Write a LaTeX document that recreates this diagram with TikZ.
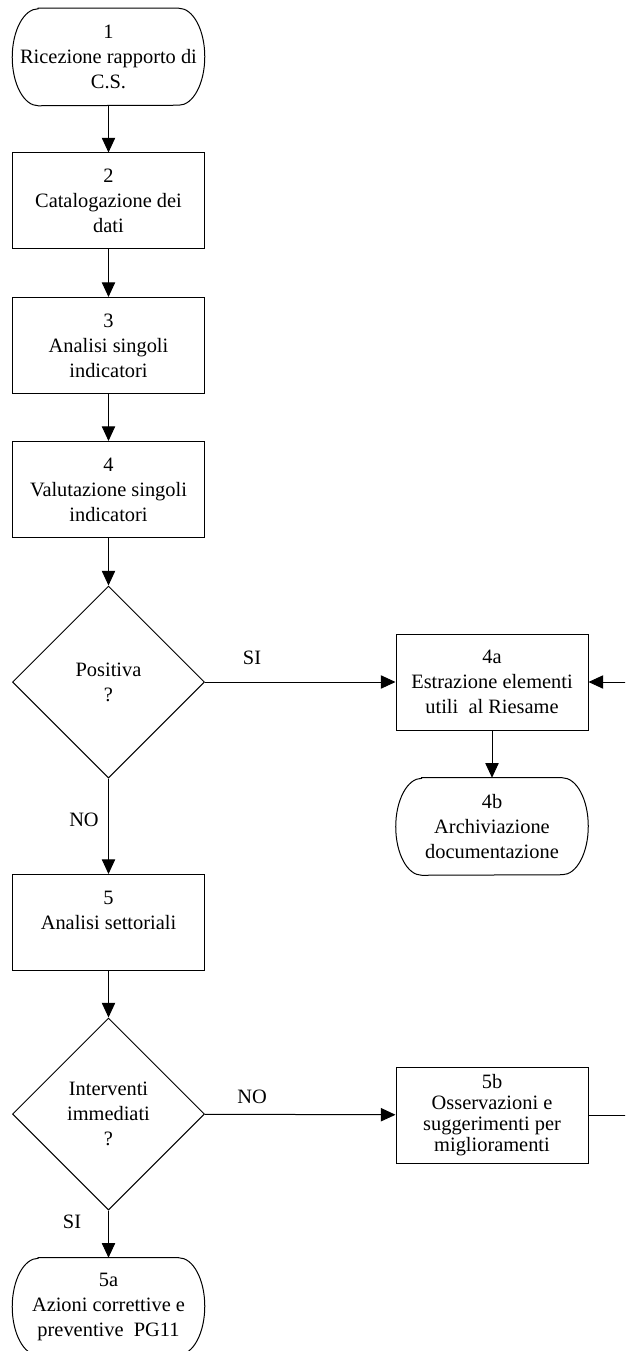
\documentclass[tikz,border=0pt]{standalone}
\usepackage{fontspec}
\setmainfont{Liberation Serif}
\usetikzlibrary{shapes.geometric,arrows.meta}
\newcommand\termoutline[1]{\draw[line width=0.75pt] ([xshift=19.5pt]#1.north west) -- ([xshift=-19.5pt]#1.north east) arc[start angle=90,end angle=-90,x radius=19.5pt,y radius=36.375pt] -- ([xshift=19.5pt]#1.south west) arc[start angle=270,end angle=90,x radius=19.5pt,y radius=36.375pt] -- cycle;}
\begin{document}
\begin{tikzpicture}[x=0.75pt,y=-0.75pt,
  every node/.style={font=\fontsize{15.3}{18.75}\selectfont, align=center, inner sep=0pt},
  box/.style={draw, rectangle, minimum width=144pt, minimum height=72pt, line width=0.75pt},
  term/.style={rectangle, minimum width=144pt, minimum height=72.75pt},
  dec/.style={draw, diamond, minimum width=144pt, minimum height=144pt, line width=0.75pt},
  conn/.style={line width=0.75pt, -{Triangle[length=11pt,width=10pt]}}]
\useasboundingbox (0,0) rectangle (625,1351);
\clip (0,0) rectangle (625,1351);
\node[term] (n1) at (108.5,57) {1\\Ricezione rapporto di\\C.S.};
\termoutline{n1}
\node[box] (n2) at (108.5,201) {2\\Catalogazione dei\\dati};
\node[box] (n3) at (108.5,345.5) {3\\Analisi singoli\\indicatori};
\node[box] (n4) at (108.5,489.5) {4\\Valutazione singoli\\indicatori};
\node[dec] (d1) at (108.5,682) {Positiva\\?};
\node[box] (n4a) at (492,682) {4a\\Estrazione elementi\\utili~ al Riesame};
\node[term] (n4b) at (492,826.5) {4b\\Archiviazione\\documentazione};
\termoutline{n4b}
\node[box] (n5) at (108.5,922.5) {5\\Analisi settoriali\\\phantom{x}};
\node[dec] (d2) at (108.5,1114) {Interventi\\immediati\\?};
\node[box, font=\fontsize{15.3}{15.75}\selectfont] (n5b) at (492,1115) {5b\\Osservazioni e\\suggerimenti per\\miglioramenti};
\node[term] (n5a) at (108.5,1306.5) {5a\\Azioni correttive e\\preventive~ PG11};
\termoutline{n5a}
\node (lsi1) at (252,658) {SI};
\node (lno1) at (84,820) {NO};
\node (lno2) at (252,1097) {NO};
\node (lsi2) at (72,1222) {SI};
\draw[conn] (n1) -- (n2);
\draw[conn] (n2) -- (n3);
\draw[conn] (n3) -- (n4);
\draw[conn] (n4) -- (d1);
\draw[conn] (d1) -- (n4a);
\draw[conn] (n4a) -- (n4b);
\draw[conn] (d1) -- (n5);
\draw[conn] (n5) -- (d2);
\draw[conn] (d2) -- (n5b);
\draw[conn] (d2) -- (n5a);
\coordinate (r1) at (640,1115);
\coordinate (r2) at (640,682);
\draw[conn] (n5b.east) -- (r1) -- (r2) -- (n4a.east);
\end{tikzpicture}
\end{document}
